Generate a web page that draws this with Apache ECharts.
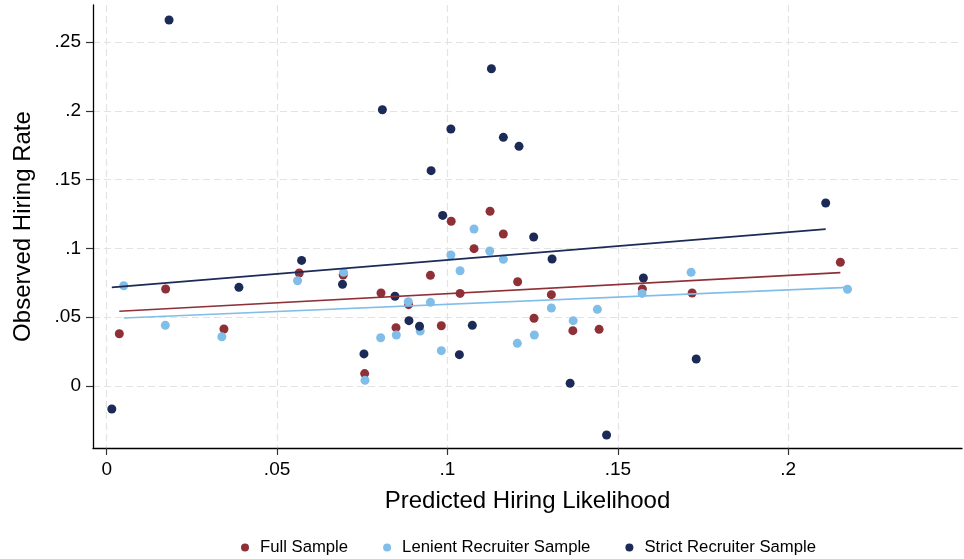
<!DOCTYPE html>
<html><head><meta charset="utf-8">
<script src="https://cdn.jsdelivr.net/npm/echarts@6/dist/echarts.min.js"></script>
<style>html,body{margin:0;padding:0;background:#fff}#c{width:964px;height:559px}</style>
</head><body><div id="c"></div>
<script>
const seriesNames = ['Full Sample', 'Lenient Recruiter Sample', 'Strict Recruiter Sample'];

const fullX = [0.0037, 0.0173, 0.0344, 0.0565, 0.0694, 0.0757, 0.0805, 0.0849, 0.0886, 0.0950, 0.0982, 0.1011, 0.1037, 0.1078, 0.1125, 0.1164, 0.1206, 0.1254, 0.1305, 0.1368, 0.1445, 0.1572, 0.1718, 0.2153];
const fullY = [0.0380, 0.0705, 0.0414, 0.0821, 0.0807, 0.0090, 0.0676, 0.0424, 0.0591, 0.0804, 0.0438, 0.1197, 0.0673, 0.0998, 0.1270, 0.1105, 0.0758, 0.0492, 0.0664, 0.0402, 0.0412, 0.0705, 0.0676, 0.0899];

const lenientX = [0.0050, 0.0172, 0.0338, 0.0560, 0.0695, 0.0758, 0.0804, 0.0850, 0.0885, 0.0920, 0.0950, 0.0982, 0.1010, 0.1037, 0.1078, 0.1124, 0.1164, 0.1205, 0.1255, 0.1305, 0.1369, 0.1440, 0.1571, 0.1715, 0.2174];
const lenientY = [0.0729, 0.0441, 0.0358, 0.0765, 0.0826, 0.0041, 0.0351, 0.0371, 0.0613, 0.0400, 0.0608, 0.0257, 0.0952, 0.0838, 0.1141, 0.0981, 0.0921, 0.0310, 0.0371, 0.0567, 0.0475, 0.0557, 0.0673, 0.0826, 0.0703];

const strictX = [0.0015, 0.0183, 0.0388, 0.0572, 0.0692, 0.0755, 0.0809, 0.0846, 0.0887, 0.0918, 0.0952, 0.0986, 0.1010, 0.1035, 0.1073, 0.1129, 0.1164, 0.1210, 0.1253, 0.1307, 0.1360, 0.1467, 0.1575, 0.1730, 0.2110];
const strictY = [-0.0167, 0.2660, 0.0717, 0.0913, 0.0739, 0.0233, 0.2008, 0.0652, 0.0475, 0.0434, 0.1565, 0.1240, 0.1868, 0.0228, 0.0441, 0.2306, 0.1807, 0.1742, 0.1083, 0.0923, 0.0020, -0.0356, 0.0785, 0.0196, 0.1330];

// fitted lines: [x, y] at the two ends
const fitFullX = [0.0037, 0.2153];
const fitFullY = [0.0543, 0.0824];
const fitLenientX = [0.0050, 0.2174];
const fitLenientY = [0.0494, 0.0717];
const fitStrictX = [0.0015, 0.2110];
const fitStrictY = [0.0717, 0.1140];

const xTicks = [0, 0.05, 0.1, 0.15, 0.2];
const yTicks = [0, 0.05, 0.1, 0.15, 0.2, 0.25];

const colors = ['#8f3037', '#80bde8', '#1b2a56'];

function zip(a, b) { return a.map((v, i) => [v, b[i]]); }
function fmt(v) {
  if (Math.abs(v) < 1e-9) return '0';
  return String(+v.toFixed(3)).replace(/^0\./, '.').replace(/^-0\./, '-.');
}

const FONT = '"Liberation Sans", Arial, Helvetica, sans-serif';
const gridLine = { show: true, lineStyle: { color: '#e3e3e3', width: 1.2, type: [7, 4] } };

const chart = echarts.init(document.getElementById('c'), null, { renderer: 'canvas' });

const scatterData = [zip(fullX, fullY), zip(lenientX, lenientY), zip(strictX, strictY)];
const fitData = [zip(fitFullX, fitFullY), zip(fitLenientX, fitLenientY), zip(fitStrictX, fitStrictY)];

const series = [];
seriesNames.forEach((n, i) => {
  series.push({
    name: n, type: 'scatter', data: scatterData[i], symbol: 'circle', symbolSize: 9,
    itemStyle: { color: colors[i], opacity: 1 }, z: 2 + i, silent: true
  });
});
seriesNames.forEach((n, i) => {
  series.push({
    name: n + ' fit', type: 'line', data: fitData[i], showSymbol: false, symbol: 'none',
    lineStyle: { color: colors[i], width: 1.6 }, z: 6, silent: true
  });
});

chart.setOption({
  animation: false,
  backgroundColor: '#ffffff',
  textStyle: { fontFamily: FONT },
  grid: { left: 93, right: 2, top: 5, bottom: 111, containLabel: false },
  xAxis: {
    type: 'value', min: -0.00402, max: 0.2510,
    name: 'Predicted Hiring Likelihood', nameLocation: 'middle', nameGap: 41,
    nameTextStyle: { fontSize: 24, color: '#000', fontFamily: FONT },
    axisLine: { show: true, onZero: false, lineStyle: { color: '#000', width: 1.3 } },
    axisTick: { show: true, customValues: xTicks, length: 7, lineStyle: { color: '#333', width: 1.2 } },
    axisLabel: { customValues: xTicks, formatter: fmt, fontSize: 19, color: '#000', margin: 12, fontFamily: FONT },
    splitLine: gridLine
  },
  yAxis: {
    type: 'value', min: -0.04506, max: 0.2769,
    name: 'Observed Hiring Rate', nameLocation: 'middle', nameGap: 58,
    nameTextStyle: { fontSize: 24, color: '#000', fontFamily: FONT },
    axisLine: { show: true, onZero: false, lineStyle: { color: '#000', width: 1.3 } },
    axisTick: { show: true, customValues: yTicks, length: 7, lineStyle: { color: '#333', width: 1.2 } },
    axisLabel: { customValues: yTicks, formatter: fmt, fontSize: 19, color: '#000', margin: 12, fontFamily: FONT },
    splitLine: gridLine
  },
  legend: {
    data: seriesNames.map((n, i) => ({ name: n, icon: 'circle', itemStyle: { color: colors[i] } })),
    left: 236, top: 534, itemWidth: 8, itemHeight: 8, itemGap: 35,
    textStyle: { fontSize: 16.7, color: '#000', fontFamily: FONT, padding: [0, 0, 0, 6] }
  },
  series: series
});
</script>
</body></html>
